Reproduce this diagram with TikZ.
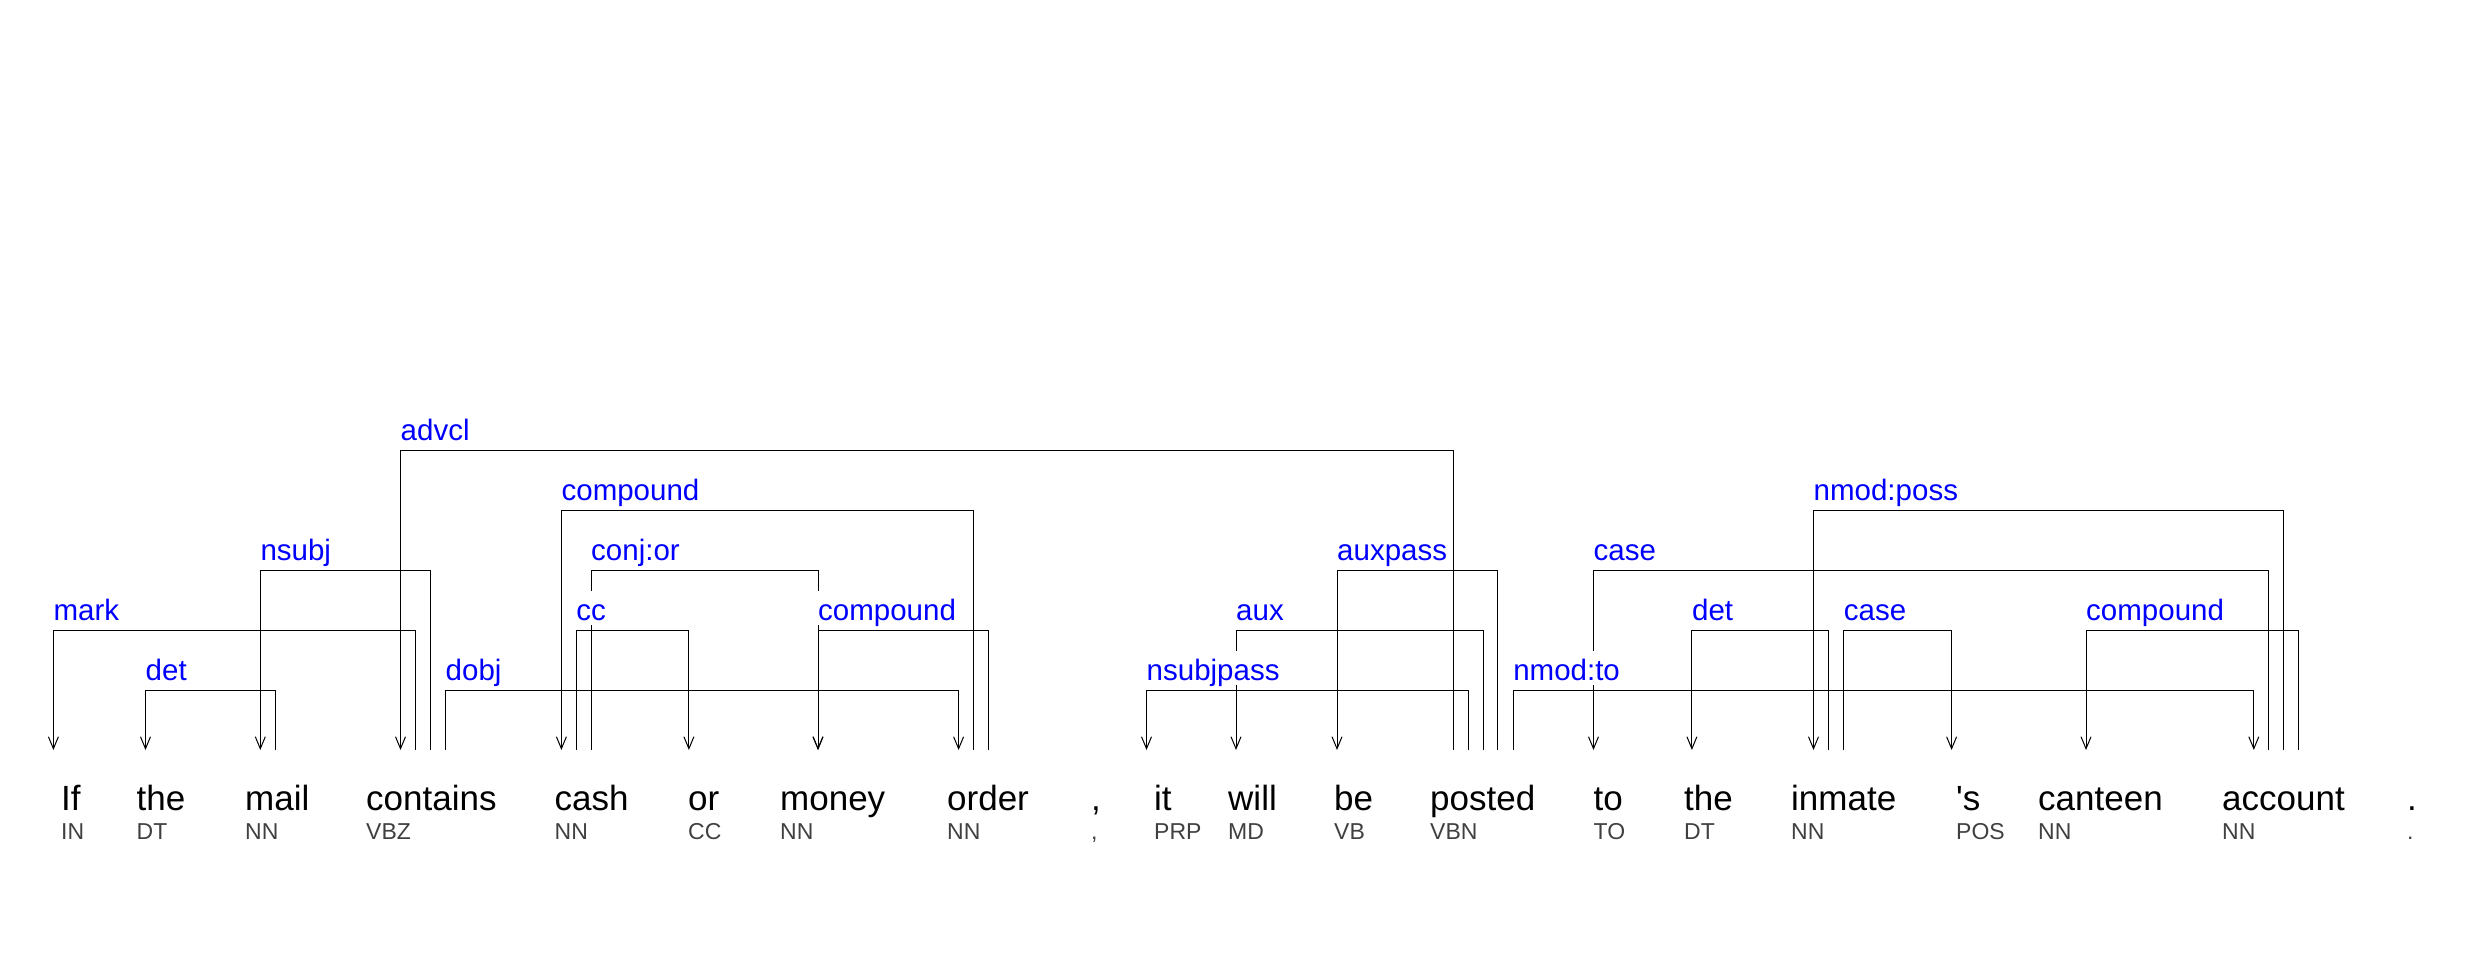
\documentclass[tikz,border=0pt]{standalone}
\usepackage{fontspec}
\setmainfont{Liberation Sans}
\usetikzlibrary{arrows.meta}
\definecolor{posgray}{RGB}{64,64,64}
\definecolor{lblblue}{RGB}{0,0,255}
\begin{document}
\begin{tikzpicture}[x=1pt,y=-1pt,
  wordtok/.style={anchor=base west, inner sep=0pt, font=\fontsize{35}{40}\selectfont},
  postag/.style={anchor=base west, inner sep=0pt, text=posgray, font=\fontsize{23}{27}\selectfont},
  deplbl/.style={anchor=base west, inner sep=0pt, fill=white, text=lblblue, text height=30pt, text depth=4pt, font=\fontsize{29.5}{34}\selectfont},
  depline/.style={draw=black, line width=1pt, -{Straight Barb[length=12pt,width=10pt,line width=1pt]}},
]
\useasboundingbox (0,0) rectangle (2469,960);
% words
\node[wordtok] (w1) at (61,810) {If};
\node[wordtok] (w2) at (136.5,810) {the};
\node[wordtok] (w3) at (245,810) {mail};
\node[wordtok] (w4) at (366,810) {contains};
\node[wordtok] (w5) at (554.5,810) {cash};
\node[wordtok] (w6) at (688,810) {or};
\node[wordtok] (w7) at (780,810) {money};
\node[wordtok] (w8) at (947,810) {order};
\node[wordtok] (w9) at (1091,810) {,};
\node[wordtok] (w10) at (1154,810) {it};
\node[wordtok] (w11) at (1228,810) {will};
\node[wordtok] (w12) at (1334,810) {be};
\node[wordtok] (w13) at (1430,810) {posted};
\node[wordtok] (w14) at (1593.5,810) {to};
\node[wordtok] (w15) at (1684,810) {the};
\node[wordtok] (w16) at (1791,810) {inmate};
\node[wordtok] (w17) at (1956,810) {\textquotesingle s};
\node[wordtok] (w18) at (2038,810) {canteen};
\node[wordtok] (w19) at (2222,810) {account};
\node[wordtok] (w20) at (2407,810) {.};
% POS tags
\node[postag] (t1) at (61,839) {IN};
\node[postag] (t2) at (136.5,839) {DT};
\node[postag] (t3) at (245,839) {NN};
\node[postag] (t4) at (366,839) {VBZ};
\node[postag] (t5) at (554.5,839) {NN};
\node[postag] (t6) at (688,839) {CC};
\node[postag] (t7) at (780,839) {NN};
\node[postag] (t8) at (947,839) {NN};
\node[postag] (t9) at (1091,839) {,};
\node[postag] (t10) at (1154,839) {PRP};
\node[postag] (t11) at (1228,839) {MD};
\node[postag] (t12) at (1334,839) {VB};
\node[postag] (t13) at (1430,839) {VBN};
\node[postag] (t14) at (1593.5,839) {TO};
\node[postag] (t15) at (1684,839) {DT};
\node[postag] (t16) at (1791,839) {NN};
\node[postag] (t17) at (1956,839) {POS};
\node[postag] (t18) at (2038,839) {NN};
\node[postag] (t19) at (2222,839) {NN};
\node[postag] (t20) at (2407,839) {.};
% attachment points
\coordinate (if-in) at (53.4,750);
\coordinate (the-in) at (145.5,750);
\coordinate (mail-in) at (260.3,750);
\coordinate (mail-o1) at (275.1,750);
\coordinate (contains-in) at (400.5,750);
\coordinate (contains-o1) at (415.3,750);
\coordinate (contains-o2) at (430.2,750);
\coordinate (contains-o3) at (445.5,750);
\coordinate (cash-in) at (561.4,750);
\coordinate (cash-o1) at (576.2,750);
\coordinate (cash-o2) at (591,750);
\coordinate (or-in) at (688.9,750);
\coordinate (money-in) at (818,750);
\coordinate (order-in) at (958.6,750);
\coordinate (order-o1) at (973.4,750);
\coordinate (order-o2) at (988.3,750);
\coordinate (it-in) at (1146.5,750);
\coordinate (will-in) at (1236,750);
\coordinate (be-in) at (1337,750);
\coordinate (posted-o1) at (1453.3,750);
\coordinate (posted-o2) at (1468.1,750);
\coordinate (posted-o3) at (1483,750);
\coordinate (posted-o4) at (1497.8,750);
\coordinate (posted-o5) at (1513.1,750);
\coordinate (to-in) at (1593.5,750);
\coordinate (the2-in) at (1691.9,750);
\coordinate (inmate-in) at (1813.5,750);
\coordinate (inmate-o1) at (1828.4,750);
\coordinate (inmate-o2) at (1843.7,750);
\coordinate (s-in) at (1951.6,750);
\coordinate (canteen-in) at (2086,750);
\coordinate (account-in) at (2253.8,750);
\coordinate (account-o1) at (2268.6,750);
\coordinate (account-o2) at (2283.4,750);
\coordinate (account-o3) at (2298.2,750);
% dependency connectors (level 690: 60 up, 630: 120, 570: 180, 510: 240, 450: 300)
\draw[depline] (contains-o1) -- ++(0,-120) -| (if-in);
\draw[depline] (mail-o1) -- ++(0,-60) -| (the-in);
\draw[depline] (contains-o2) -- ++(0,-180) -| (mail-in);
\draw[depline] (posted-o1) -- ++(0,-300) -| (contains-in);
\draw[depline] (contains-o3) -- ++(0,-60) -| (order-in);
\draw[depline] (order-o1) -- ++(0,-240) -| (cash-in);
\draw[depline] (cash-o1) -- ++(0,-120) -| (or-in);
\draw[depline] (cash-o2) -- ++(0,-180) -| (money-in);
\draw[depline] (order-o2) -- ++(0,-120) -| (money-in);
\draw[depline] (posted-o2) -- ++(0,-60) -| (it-in);
\draw[depline] (posted-o3) -- ++(0,-120) -| (will-in);
\draw[depline] (posted-o4) -- ++(0,-180) -| (be-in);
\draw[depline] (posted-o5) -- ++(0,-60) -| (account-in);
\draw[depline] (account-o1) -- ++(0,-180) -| (to-in);
\draw[depline] (inmate-o1) -- ++(0,-120) -| (the2-in);
\draw[depline] (inmate-o2) -- ++(0,-120) -| (s-in);
\draw[depline] (account-o2) -- ++(0,-240) -| (inmate-in);
\draw[depline] (account-o3) -- ++(0,-120) -| (canteen-in);
% labels
\node[deplbl] (l1) at (53.4,620.5) {mark};
\node[deplbl] (l2) at (145.5,680.5) {det};
\node[deplbl] (l3) at (260.3,560.5) {nsubj};
\node[deplbl] (l4) at (400.5,440.5) {advcl};
\node[deplbl] (l5) at (445.5,680.5) {dobj};
\node[deplbl] (l6) at (561.4,500.5) {compound};
\node[deplbl] (l7) at (576.2,620.5) {cc};
\node[deplbl] (l8) at (591,560.5) {conj:or};
\node[deplbl] (l9) at (818,620.5) {compound};
\node[deplbl] (l10) at (1146.5,680.5) {nsubjpass};
\node[deplbl] (l11) at (1236,620.5) {aux};
\node[deplbl] (l12) at (1337,560.5) {auxpass};
\node[deplbl] (l13) at (1513.1,680.5) {nmod:to};
\node[deplbl] (l14) at (1593.5,560.5) {case};
\node[deplbl] (l15) at (1691.9,620.5) {det};
\node[deplbl] (l16) at (1843.7,620.5) {case};
\node[deplbl] (l17) at (1813.5,500.5) {nmod:poss};
\node[deplbl] (l18) at (2086,620.5) {compound};
\end{tikzpicture}
\end{document}
